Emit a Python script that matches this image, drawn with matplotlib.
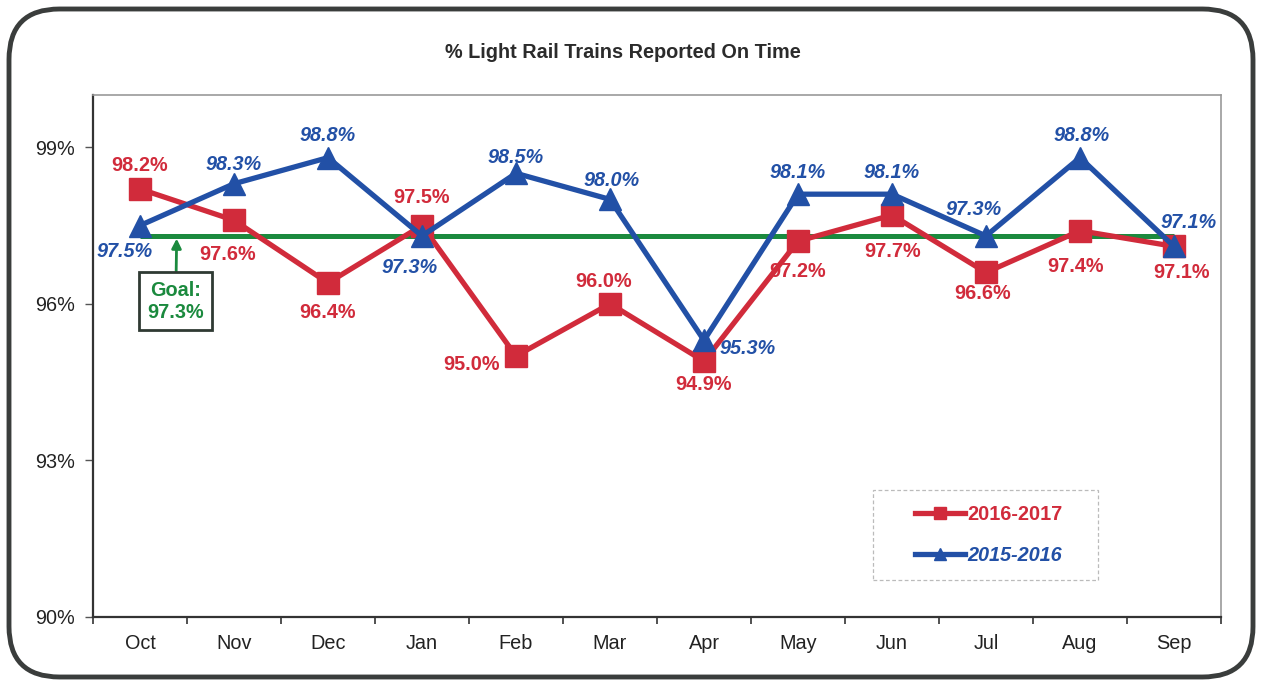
import matplotlib
matplotlib.use("Agg")
import matplotlib.pyplot as plt
from matplotlib.patches import FancyBboxPatch, Rectangle
from matplotlib.lines import Line2D
from matplotlib.ticker import FixedLocator, NullFormatter

plt.rcParams['font.family'] = ['Liberation Sans', 'DejaVu Sans']

months = ["Oct", "Nov", "Dec", "Jan", "Feb", "Mar", "Apr", "May", "Jun", "Jul", "Aug", "Sep"]
fy2017 = [98.2, 97.6, 96.4, 97.5, 95.0, 96.0, 94.9, 97.2, 97.7, 96.6, 97.4, 97.1]
fy2016 = [97.5, 98.3, 98.8, 97.3, 98.5, 98.0, 95.3, 98.1, 98.1, 97.3, 98.8, 97.1]
goal = 97.3
y_ticks = [90, 93, 96, 99]
y_labels = ["90%", "93%", "96%", "99%"]

RED = "#D12B3B"
BLUE = "#2250A6"
GREEN = "#1B8A3E"
FS = 14.3

fig = plt.figure(figsize=(12.62, 6.86), dpi=100)
fig.patch.set_facecolor("white")

# outer rounded frame
frame = FancyBboxPatch((9 / 1262, 9 / 686), 1244 / 1262, 668 / 686,
                       boxstyle="round,pad=0,rounding_size=0.04",
                       transform=fig.transFigure, fill=False,
                       edgecolor="#3a3d3c", linewidth=3.5, mutation_aspect=1262 / 686)
fig.patches.append(frame)

ax = fig.add_axes([93 / 1262, (686 - 617) / 686, (1221 - 93) / 1262, (617 - 95) / 686])
x = list(range(len(months)))

ax.plot([x[0], x[-1]], [goal, goal], color=GREEN, lw=3.6, zorder=2, solid_capstyle="butt")
ax.plot(x, fy2017, color=RED, lw=3.8, marker="s", markersize=15.5, zorder=3)
ax.plot(x, fy2016, color=BLUE, lw=3.8, marker="^", markersize=16, zorder=4)

ax.set_xlim(-0.5, len(months) - 0.5)
ax.set_ylim(90, 100)

# label offsets in pixels (dx, dy)
red_off = [(0, 23), (-6, -34), (0, -30), (0, 28), (-45, -9), (-6, 22), (0, -23),
           (0, -30), (1, -36), (-3, -21), (-5, -36), (8, -26)]
blue_off = [(-15, -26), (0, 19), (0, 22), (-12, -32), (0, 16), (2, 19), (44, -8),
            (0, 22), (0, 22), (-12, 26), (2, 22), (15, 24)]

for i, v in enumerate(fy2017):
    ax.annotate(f"{v:.1f}%", (x[i], v), xytext=red_off[i], textcoords="offset pixels",
                ha="center", va="center", color=RED, fontsize=FS, fontweight="bold", zorder=6)
for i, v in enumerate(fy2016):
    ax.annotate(f"{v:.1f}%", (x[i], v), xytext=blue_off[i], textcoords="offset pixels",
                ha="center", va="center", color=BLUE, fontsize=FS, fontweight="bold",
                fontstyle="italic", zorder=6)

# goal annotation
ax.annotate("Goal:\n97.3%", xy=(0.39, goal - 0.05), xytext=(0.38, 96.05),
            ha="center", va="center", color=GREEN, fontsize=FS, fontweight="bold",
            linespacing=1.2,
            bbox=dict(boxstyle="square,pad=0.42", fc="white", ec="#2f3a33", lw=2),
            arrowprops=dict(arrowstyle="-|>", color=GREEN, lw=2, mutation_scale=14,
                            shrinkA=0, shrinkB=0),
            zorder=7)

# axes styling
ax.xaxis.set_major_locator(FixedLocator([i - 0.5 for i in range(len(months) + 1)]))
ax.xaxis.set_major_formatter(NullFormatter())
ax.xaxis.set_minor_locator(FixedLocator(x))
ax.set_xticklabels(months, minor=True)
ax.tick_params(axis="x", which="minor", length=0, pad=12, labelsize=FS, labelcolor="#222222")
ax.tick_params(axis="x", which="major", length=5, width=1.2, color="#333333", direction="out")
ax.set_yticks(y_ticks)
ax.set_yticklabels(y_labels)
ax.tick_params(axis="y", length=6, width=1, color="#555555", labelsize=FS, labelcolor="#222222", pad=7)

for s in ["left", "bottom"]:
    ax.spines[s].set_color("#333333")
    ax.spines[s].set_linewidth(1.6)
for s in ["top", "right"]:
    ax.spines[s].set_color("#999999")
    ax.spines[s].set_linewidth(1.2)

fig.text(623 / 1262, 1 - 53 / 686, "% Light Rail Trains Reported On Time", fontsize=FS,
         fontweight="bold", color="#2b2b2b", ha="center", va="center")

# legend frame + legend
lx0, ly0, lw_, lh_ = (873 - 93) / 1128, (617 - 580) / 522, 225 / 1128, 90 / 522
ax.add_patch(Rectangle((lx0, ly0), lw_, lh_, transform=ax.transAxes, fill=True, fc="white",
                       ec="#bbbbbb", lw=0.9, ls=(0, (3, 2)), zorder=8))
handles = [Line2D([], [], color=RED, lw=3.8, marker="s", markersize=8),
           Line2D([], [], color=BLUE, lw=3.8, marker="^", markersize=8.5)]
leg = ax.legend(handles, ["2016-2017", "2015-2016"], loc="center",
                bbox_to_anchor=(lx0 + lw_ / 2 + 0.003, ly0 + lh_ / 2), frameon=False, fontsize=FS,
                handlelength=2.5, handletextpad=0.15, labelspacing=1.15, borderpad=0,
                borderaxespad=0)
leg.set_zorder(9)
for t, c, st in zip(leg.get_texts(), [RED, BLUE], ["normal", "italic"]):
    t.set_color(c)
    t.set_fontweight("bold")
    t.set_fontstyle(st)

fig.savefig("out.png", dpi=100)
